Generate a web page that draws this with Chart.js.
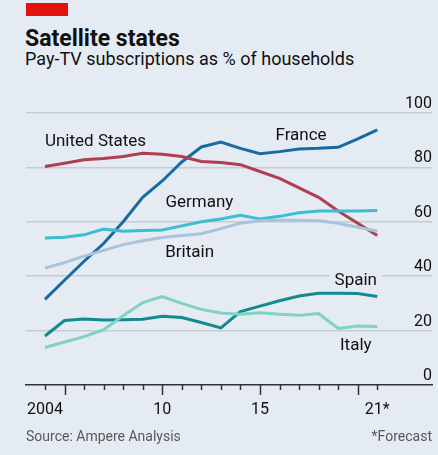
<!DOCTYPE html>
<html>
<head>
<meta charset="utf-8">
<title>Satellite states</title>
<script src="https://cdn.jsdelivr.net/npm/chart.js@4.4.1/dist/chart.umd.min.js"></script>
<style>
    html, body { margin: 0; padding: 0; }
    body {
        width: 438px; height: 455px; position: relative; overflow: hidden;
        background: #e4ebf2; color: #111;
        font-family: Roboto, "Noto Sans", sans-serif;
    }
    .red-bar { position: absolute; left: 26px; top: 3px; width: 42px; height: 13px; background: #e3120b; }
    .title { position: absolute; left: 25px; top: 25px; font-size: 23px; font-weight: 700; }
    .subtitle { position: absolute; left: 25px; top: 48px; font-size: 18px; }
    .source, .note { position: absolute; top: 428px; font-size: 14px; color: #595959; }
    .source { left: 26px; }
    .note { right: 6px; }
    canvas { position: absolute; left: 0; top: 0; }
</style>
</head>
<body>
<div class="red-bar"></div>
<div class="title">Satellite states</div>
<div class="subtitle">Pay-TV subscriptions as % of households</div>
<canvas id="satChart" width="438" height="455"></canvas>
<div class="source">Source: Ampere Analysis</div>
<div class="note">*Forecast</div>

<script>
// ==========================================
// Data
// ==========================================
const years = [2004, 2005, 2006, 2007, 2008, 2009, 2010, 2011, 2012,
               2013, 2014, 2015, 2016, 2017, 2018, 2019, 2020, 2021];

const unitedStates = [80.3, 81.5, 82.8, 83.3, 84.0, 85.2, 84.8, 84.0, 82.2,
                      81.8, 81.0, 78.5, 76.0, 72.5, 69.0, 64.0, 59.5, 55.0];
const france       = [31.5, 38.5, 45.5, 52.0, 60.0, 69.0, 75.0, 82.0, 87.5,
                      89.3, 87.0, 85.0, 85.8, 86.8, 87.0, 87.4, 90.5, 93.8];
const germany      = [54.0, 54.3, 55.2, 57.3, 56.5, 56.8, 57.0, 58.5, 60.0,
                      61.0, 62.4, 61.0, 62.0, 63.3, 64.0, 64.0, 64.0, 64.2];
const britain      = [43.0, 45.0, 47.4, 49.5, 51.6, 53.0, 54.2, 55.0, 55.6,
                      57.5, 59.5, 60.4, 60.6, 60.6, 60.4, 59.5, 58.0, 56.5];
const spain        = [18.0, 23.7, 24.3, 23.9, 24.0, 24.2, 25.3, 24.8, 23.0,
                      21.0, 27.0, 29.0, 31.0, 32.7, 33.7, 33.7, 33.6, 32.5];
const italy        = [13.8, 15.8, 17.8, 20.3, 25.5, 30.3, 32.5, 30.0, 27.8,
                      26.5, 26.0, 26.6, 26.0, 25.6, 26.3, 20.8, 21.7, 21.5];

const yTicks = [0, 20, 40, 60, 80, 100];
const xTickLabels = { 2004: '2004', 2010: '10', 2015: '15', 2021: '21*' };
const majorYears = [2005, 2010, 2015, 2020];

// direct labels, anchored in data coordinates
const seriesLabels = [
    { text: 'United States', x: 2004,   y: 89.4, align: 'left' },
    { text: 'France',        x: 2017.1, y: 91.7, align: 'center' },
    { text: 'Germany',       x: 2011.9, y: 66.9, align: 'center' },
    { text: 'Britain',       x: 2011.4, y: 48.6, align: 'center' },
    { text: 'Spain',         x: 2019.9, y: 38.2, align: 'center', box: true },
    { text: 'Italy',         x: 2019.9, y: 14.3, align: 'center' }
];

const BG = '#e4ebf2';
const FONT = 'Roboto, "Noto Sans", sans-serif';

function toPoints(values) {
    return values.map((v, i) => ({ x: years[i], y: v }));
}

function line(label, values, color) {
    return {
        label: label,
        data: toPoints(values),
        borderColor: color,
        borderWidth: 3,
        pointRadius: 0,
        tension: 0,
        fill: false
    };
}

// ==========================================
// Plugins: x tick marks and series labels
// ==========================================
const tickMarks = {
    id: 'tickMarks',
    afterDraw(chart) {
        const ctx = chart.ctx;
        const xs = chart.scales.x;
        const base = chart.chartArea.bottom;
        ctx.save();
        ctx.strokeStyle = '#333';
        ctx.lineWidth = 1.5;
        years.forEach(yr => {
            const px = Math.round(xs.getPixelForValue(yr)) + 0.5;
            const len = majorYears.includes(yr) ? 10 : 5;
            ctx.beginPath();
            ctx.moveTo(px, base);
            ctx.lineTo(px, base + len);
            ctx.stroke();
        });
        ctx.restore();
    }
};

const directLabels = {
    id: 'directLabels',
    beforeDatasetsDraw(chart) {
        const ctx = chart.ctx;
        const xs = chart.scales.x, ys = chart.scales.y;
        ctx.save();
        ctx.font = '17px ' + FONT;
        ctx.textBaseline = 'middle';
        seriesLabels.forEach(l => {
            const px = xs.getPixelForValue(l.x);
            const py = ys.getPixelForValue(l.y);
            ctx.textAlign = l.align;
            if (l.box) {
                const w = ctx.measureText(l.text).width;
                const left = l.align === 'center' ? px - w / 2 : px;
                ctx.fillStyle = BG;
                ctx.fillRect(left - 5, py - 10, w + 10, 20);
            }
            ctx.fillStyle = '#111';
            ctx.fillText(l.text, px, py);
        });
        ctx.restore();
    }
};

// ==========================================
// Chart
// ==========================================
new Chart(document.getElementById('satChart').getContext('2d'), {
    type: 'line',
    data: {
        datasets: [
            line('Britain', britain, '#a9c3db'),
            line('Italy', italy, '#80d2c2'),
            line('Germany', germany, '#3dbdd2'),
            line('Spain', spain, '#128a8f'),
            line('United States', unitedStates, '#b03d50'),
            line('France', france, '#1a6aa2')
        ]
    },
    options: {
        responsive: false,
        animation: false,
        layout: { padding: { left: 26, right: 6, top: 113, bottom: 0 } },
        plugins: {
            legend: { display: false },
            tooltip: { enabled: false }
        },
        scales: {
            x: {
                type: 'linear',
                min: 2003.03,
                max: 2023.8,
                afterBuildTicks: s => { s.ticks = years.map(v => ({ value: v })); },
                afterFit: s => { s.height = 70; },
                grid: { display: false },
                border: { display: true, color: '#333', width: 1.5 },
                ticks: {
                    autoSkip: false,
                    maxRotation: 0,
                    padding: 7,
                    color: '#111',
                    font: { family: FONT, size: 16 },
                    callback: v => xTickLabels[v] || ''
                }
            },
            y: {
                position: 'right',
                min: 0,
                max: 100,
                afterBuildTicks: s => { s.ticks = yTicks.map(v => ({ value: v })); },
                afterFit: s => { s.width = 0; },
                border: { display: false },
                grid: {
                    drawTicks: false,
                    lineWidth: 1.5,
                    color: c => c.tick && c.tick.value === 0 ? 'rgba(0,0,0,0)' : '#c6ccd3'
                },
                ticks: {
                    mirror: true,
                    padding: 0,
                    labelOffset: -9,
                    color: '#111',
                    font: { family: FONT, size: 16 }
                }
            }
        }
    },
    plugins: [tickMarks, directLabels]
});
</script>
</body>
</html>
